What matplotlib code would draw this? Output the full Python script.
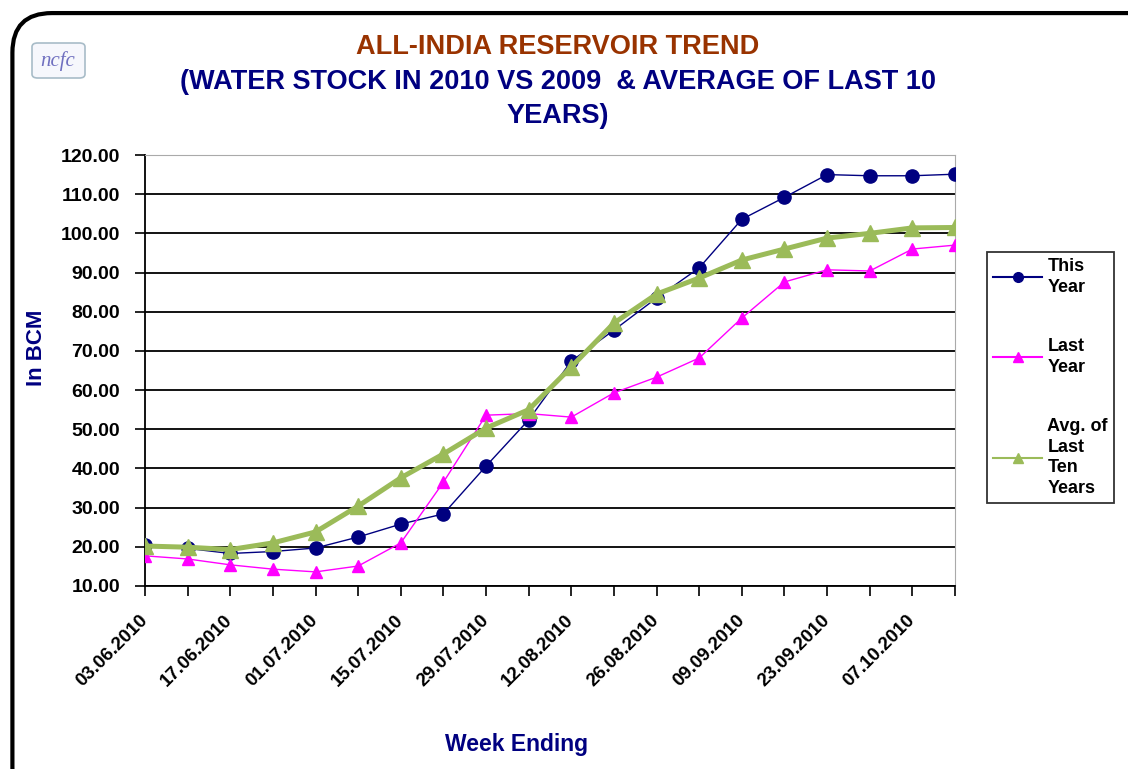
import matplotlib.pyplot as plt
from matplotlib.patches import FancyBboxPatch

plt.rcParams['font.family'] = ['Liberation Sans', 'DejaVu Sans']

weeks = ['03.06.2010', '10.06.2010', '17.06.2010', '24.06.2010', '01.07.2010',
         '08.07.2010', '15.07.2010', '22.07.2010', '29.07.2010', '05.08.2010',
         '12.08.2010', '19.08.2010', '26.08.2010', '02.09.2010', '09.09.2010',
         '16.09.2010', '23.09.2010', '30.09.2010', '07.10.2010', '14.10.2010']

this_year = [20.5, 19.6, 18.3, 18.8, 19.7, 22.5, 25.8, 28.4, 40.6, 52.4,
             67.4, 75.3, 83.5, 91.2, 103.6, 109.2, 115.0, 114.7, 114.7, 115.1]
last_year = [17.7, 16.9, 15.4, 14.3, 13.6, 15.1, 21.0, 36.5, 53.6, 54.0,
             53.1, 59.3, 63.3, 68.2, 78.4, 87.6, 90.7, 90.4, 96.0, 97.0]
avg_ten = [20.2, 19.9, 19.3, 21.0, 23.8, 30.4, 37.6, 43.7, 50.3, 55.0,
           65.9, 77.1, 84.5, 88.6, 93.2, 96.0, 98.8, 100.0, 101.4, 101.5]

navy = '#000080'

fig = plt.figure(figsize=(11.28, 7.69), dpi=100)

# rounded frame round the whole chart (cut off at right and bottom)
frame = FancyBboxPatch((0.011, -0.05), 1.05, 1.033, transform=fig.transFigure,
                       boxstyle='round,pad=0,rounding_size=0.035',
                       fc='none', ec='black', lw=3, mutation_aspect=1128/769)
fig.patches.append(frame)

ax = fig.add_axes([145/1128, 1 - 586/769, (955 - 145)/1128, (586 - 155)/769])

x = list(range(len(weeks)))
ax.plot(x, this_year, color=navy, lw=1, marker='o', ms=9.5, label='This\nYear', zorder=3)
ax.plot(x, last_year, color='#FF00FF', lw=1, marker='^', ms=8, label='Last\nYear', zorder=3)
ax.plot(x, avg_ten, color='#9BBB59', lw=3.6, marker='^', ms=11,
        label='Avg. of\nLast\nTen\nYears', zorder=4)

ax.set_xlim(0, len(weeks) - 1)
ax.set_ylim(10, 120)
ax.set_yticks(range(10, 121, 10))
ax.set_yticklabels(['%.2f' % v for v in range(10, 121, 10)],
                   fontsize=14, fontweight='bold')
ax.set_xticks(x)
ax.set_xticklabels([w if i % 2 == 0 else '' for i, w in enumerate(weeks)],
                   rotation=45, ha='right', va='center', rotation_mode='anchor',
                   fontsize=13.5, fontweight='bold')
ax.tick_params(axis='both', direction='out', length=7, width=1.2, color='black')
ax.tick_params(axis='y', pad=11)
ax.tick_params(axis='x', pad=16)
ax.grid(axis='y', color='black', lw=1.3)
ax.set_axisbelow(True)
for side in ['top', 'right']:
    ax.spines[side].set_color('#aaaaaa')
for side in ['left', 'bottom']:
    ax.spines[side].set_linewidth(1.3)

fig.text(36/1128, 1 - 348/769, 'In BCM', fontsize=16, fontweight='bold',
         color=navy, ha='center', va='center', rotation=90)
fig.text(517/1128, 1 - 745/769, 'Week Ending', fontsize=16.5, fontweight='bold',
         color=navy, ha='center', va='center')

fig.text(558/1128, 1 - 47/769, 'ALL-INDIA RESERVOIR TREND', fontsize=19.5,
         fontweight='bold', color='#993300', ha='center', va='center')
fig.text(558/1128, 1 - 99/769, '(WATER STOCK IN 2010 VS 2009  & AVERAGE OF LAST 10\nYEARS)',
         fontsize=19.5, fontweight='bold', color=navy, ha='center', va='center',
         linespacing=1.38)

# small logo box
logo = FancyBboxPatch((32/1128, 1 - 78/769), 53/1128, 35/769, transform=fig.transFigure,
                      boxstyle='round,pad=0,rounding_size=0.005',
                      fc='#f6f7fc', ec='#a8bcc8', lw=1.2)
fig.patches.append(logo)
fig.text(58/1128, 1 - 61/769, 'ncfc', fontsize=15, style='italic',
         family='Liberation Serif', color='#7070c0', ha='center', va='center')

leg = fig.legend(loc='upper left', bbox_to_anchor=(987/1128, 1 - 252/769),
                 frameon=True, fancybox=False, edgecolor='black',
                 prop={'weight': 'bold', 'size': 13}, labelspacing=2.35,
                 handlelength=2.7, handletextpad=0.3, borderpad=0.35,
                 borderaxespad=0)
leg.get_frame().set_linewidth(1.3)
for t in leg.get_texts():
    t.set_linespacing(1.27)
for h in leg.legend_handles:
    h.set_linewidth(1.5)
    h.set_markersize(7)

plt.savefig('out.png', dpi=100)
